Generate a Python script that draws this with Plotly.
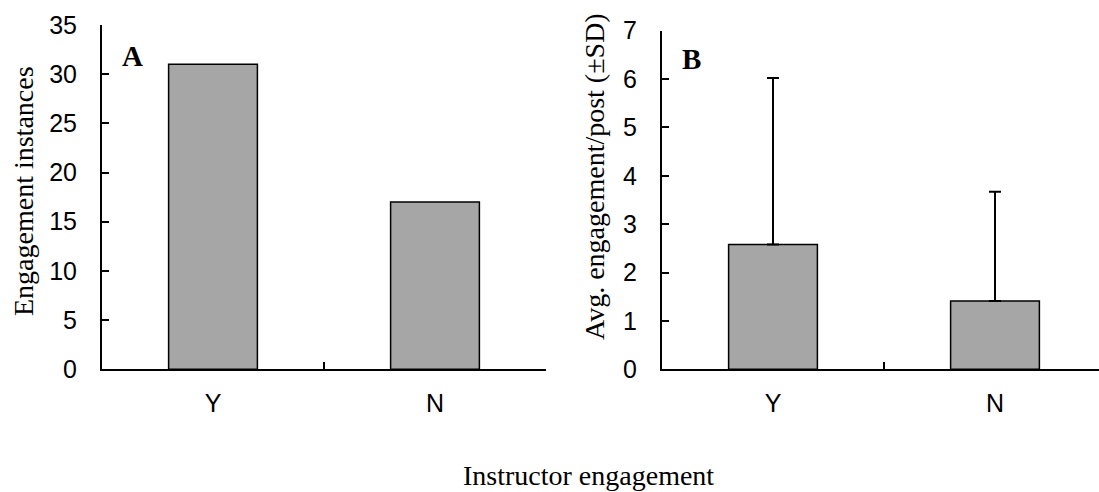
import plotly.graph_objects as go

categories = ["Y", "N"]
instances = [31, 17]
avg_engagement = [2.58, 1.41]
sd_engagement = [3.44, 2.26]
left_ticks = [0, 5, 10, 15, 20, 25, 30, 35]
right_ticks = [0, 1, 2, 3, 4, 5, 6, 7]

W, H = 1099, 492
def px_x(p):
    return p / W
def px_y(p):
    return 1 - p / H

bar_color = "#A6A6A6"
sans = "Liberation Sans, Arial, sans-serif"
serif = "Liberation Serif, Times New Roman, serif"

fig = go.Figure()
fig.add_trace(go.Bar(x=categories, y=instances, width=0.4,
                     marker=dict(color=bar_color, line=dict(color="black", width=1.5)),
                     xaxis="x", yaxis="y", showlegend=False, hoverinfo="skip"))
fig.add_trace(go.Bar(x=categories, y=avg_engagement, width=0.4,
                     marker=dict(color=bar_color, line=dict(color="black", width=1.5)),
                     error_y=dict(type="data", symmetric=False, array=sd_engagement,
                                  arrayminus=[0, 0], color="black", thickness=2, width=6),
                     xaxis="x2", yaxis="y2", showlegend=False, hoverinfo="skip"))

axis_common = dict(showline=True, linecolor="black", linewidth=2, showgrid=False,
                   zeroline=False, ticks="inside", ticklen=7, tickwidth=2, tickcolor="black",
                   automargin=False,
                   tickfont=dict(family=sans, size=25, color="black"))

fig.update_layout(
    width=W, height=H,
    margin=dict(l=0, r=0, t=0, b=0, autoexpand=False),
    paper_bgcolor="white", plot_bgcolor="white",
    bargap=0.6,
    xaxis=dict(domain=[px_x(102), px_x(546)], range=[-0.5, 1.5], type="category",
               tickson="boundaries", anchor="y", ticklabelstandoff=11, **axis_common),
    yaxis=dict(domain=[px_y(369.3), px_y(25)], range=[0, 35], tickvals=left_ticks,
               anchor="x", ticklabelstandoff=18, **axis_common),
    xaxis2=dict(domain=[px_x(662), 1.0], range=[-0.5, 1.5 - 7 / 222], type="category",
                tickson="boundaries", anchor="y2", ticklabelstandoff=11, **axis_common),
    yaxis2=dict(domain=[px_y(369.3), px_y(30.7)], range=[0, 7], tickvals=right_ticks,
                anchor="x2", ticklabelstandoff=18, **axis_common),
)

annos = [
    dict(text="Engagement instances", x=px_x(23), y=px_y(191), textangle=-90,
         font=dict(family=serif, size=28, color="black")),
    dict(text="Avg. engagement/post (±SD)", x=px_x(594), y=px_y(177), textangle=-90,
         font=dict(family=serif, size=28, color="black")),
    dict(text="Instructor engagement", x=px_x(588), y=px_y(475),
         font=dict(family=serif, size=28, color="black")),
    dict(text="<b>A</b>", x=px_x(132), y=px_y(56),
         font=dict(family=serif, size=29, color="black")),
    dict(text="<b>B</b>", x=px_x(691), y=px_y(59),
         font=dict(family=serif, size=29, color="black")),
]
for a in annos:
    fig.add_annotation(xref="paper", yref="paper", showarrow=False,
                       xanchor="center", yanchor="middle", **a)

fig.write_html("out.html", config={"displayModeBar": False},
               post_script="document.body.style.margin='0';document.body.style.overflow='hidden';")
